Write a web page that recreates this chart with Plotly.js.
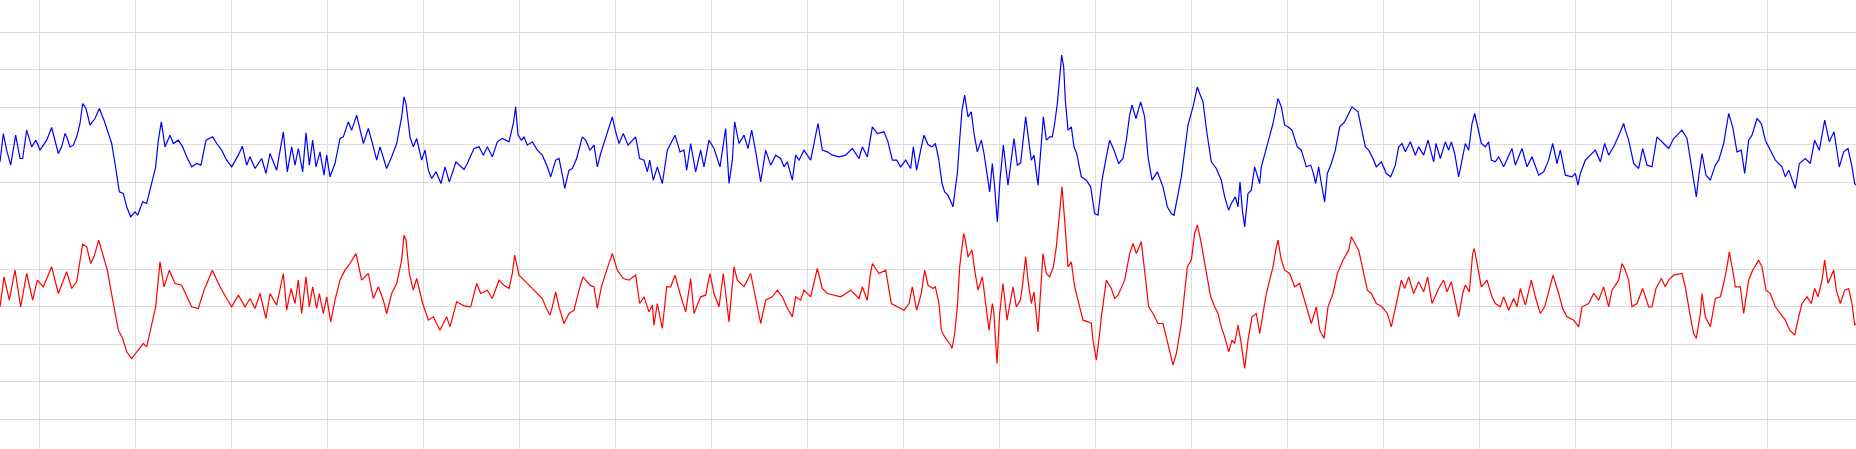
<!DOCTYPE html>
<html>
<head>
<meta charset="utf-8">
<script src="https://cdn.plot.ly/plotly-3.0.1.min.js"></script>
<style>
  html, body { margin: 0; padding: 0; background: #ffffff; overflow: hidden; }
  #chart { width: 1856px; height: 449px; }
</style>
</head>
<body>
<div id="chart"></div>
<script>
// Sample index (time axis) and amplitude (raw units) of the upper, blue channel
const blueT = [0,10,20,32,47,60,68,80,95,108,120,140,155,165,175,185,195,200,210,220,230,240,248,258,270,285,298,312,322,335,345,358,370,380,392,405,413,428,440,455,467,475,484,495,510,520,535,548,560,575,590,603,618,638,650,665,680,695,715,727,740,750,765,785,798,810,830,850,862,875,885,895,908,918,928,938,948,960,972,980,990,1005,1020,1030,1045,1055,1070,1090,1105,1120,1130,1140,1160,1175,1190,1205,1212,1218,1230,1240,1250,1265,1275,1285,1295,1308,1323,1335,1348,1368,
1392,1402,1422,1437,1450,1462,1477,1492,1507,1527,1540,1547,1554,1564,1572,1582,1597,1612,1627,1642,1652,1667,1677,1690,1694,1707,1717,1730,1747,1757,1770,1782,1792,1802,1817,1837,1847,1857,1870,1884,1907,1919,1932,1942,1949,1960,1972,1987,2002,2017,2025,2040,2052,2060,2072,2087,2102,2112,2127,2142,2160,2177,2187,2197,2204,2217,2232,2244,2255,2269,2282,2297,2312,2327,2342,2352,2362,2377,2387,2397,2412,2432,2444,2454,2467,2482,2497,2517,2537,2557,2577,2587,2602,2610,2617,2632,2652,2664,2677,2690,2702,2717,2732,2740,2750,2762,2772,
2784,2796,2806,2816,2826,2834,2844,2854,2859,2864,2872,2879,2886,2894,2904,2914,2922,2932,2944,2952,2961,2969,2977,2984,2992,3000,3010,3024,3042,3052,3062,3077,3086,3094,3102,3114,3124,3130,3139,3149,3157,3164,3172,3178,3185,3191,3196,3204,3214,3222,3230,3244,3259,3272,3284,3294,3306,3319,3329,3342,3356,3369,3379,3389,3396,3408,3422,3434,3444,3456,3472,3489,3502,3514,3522,3544,3554,3564,3579,3592,3599,3609,3621,3634,3649,3664,3674,3686,3694,3706,3714,3720,3727,3734,3744,3754,3764,3779,3784,3792,3802,3819,3834,3844,3854,3864,3876,3892,3904,3919,3932,3939,3947,3956,3964,3974,3982,3994,4006,4019,4034,4046,4056,4074,4084,4096,4106,4119,4129,4144,4159,4172,
4176,4186,4196,4206,4216,4231,4246,4256,4271,4284,4301,4308,4321,4336,4346,4354,4364,4376,4386,4396,4406,4416,4424,4434,4444,4456,4466,4474,4486,4496,4511,4536,4546,4566,4581,4596,4616,4631,4646,4658,4671,4681,4696,4716,4726,4734,4741,4756,4771,4786,4801,4814,4826,4841,4859,4871,4876,4886,4901,4916,4928,4941,4956,4971,4991,5006,5021,5046,5061,5071,5081,5089,5096,5106,5118,5131,5146,5156,5171,5186,5198,5211,5224,5234,5246,5256,5271,5284,5296,5306,5326,5346,5356,5366,5386,5398,5416,5431,5444,5458,5474,5488,5502,5512,5518,5531,5544,5556,5564,5568];
const blueV = [-52,33,-17,-62,28,-42,-42,43,-7,13,-17,13,51,13,-27,-7,33,23,-7,-2,23,63,123,108,58,78,108,73,43,3,-57,-142,-147,-187,-217,-202,-212,-172,-177,-112,-67,13,68,-7,28,3,13,-7,-37,-67,-57,-62,13,23,3,-17,-47,-67,-32,-5,-62,-37,-72,-42,-87,-27,-77,38,-82,-7,-62,-12,-82,35,-62,13,-67,-22,-92,-32,-97,-57,18,23,68,43,88,3,48,-7,-47,-7,-72,-37,3,83,143,123,23,-7,18,-47,-17,-77,-102,-82,-117,-67,-112,-52,
-75,-57,-12,-7,-32,-7,-37,8,18,8,63,113,28,13,23,-2,8,-17,-32,-67,-97,-47,-42,-107,-132,-77,-72,-42,23,13,-17,-2,-67,-27,18,83,38,3,33,-2,23,-42,-47,-82,-47,-107,-67,-117,-17,13,28,-22,-17,-77,3,-82,-17,-67,13,-12,-67,48,-117,-47,68,3,28,-12,43,-32,-112,-17,-62,-32,-42,-67,-52,-107,-32,-47,-17,-47,13,63,-17,-22,-32,-37,-32,-12,-42,-7,-37,13,53,33,38,8,-47,-47,-67,-47,-72,-7,-77,-17,28,
0,-7,3,-42,-117,-142,-152,-177,-187,-147,-87,13,103,148,83,98,33,-22,13,-27,-87,-142,-57,-127,-232,-107,-2,-122,18,-62,-55,83,13,-47,-32,-122,3,83,13,23,23,63,123,183,268,233,133,43,53,-7,-27,-97,-107,-127,-207,-212,-107,-37,13,-17,-57,-42,13,88,118,78,128,83,-37,-107,-82,-127,-187,-207,-212,-97,-17,58,113,173,153,128,33,-52,-72,-107,-157,-197,-177,-157,-187,-112,-197,-247,-147,-137,-67,-117,-67,-37,3,63,138,113,58,53,43,-7,-17,-67,-62,-82,-117,-67,-117,-172,-87,-57,-17,53,68,93,113,98,53,-7,-17,-42,-67,-52,-87,-97,
-87,-62,-7,3,-22,8,-32,-7,-32,13,-52,3,-42,8,-17,8,-27,-97,-47,3,-17,63,93,43,3,-7,8,-47,-52,-37,-67,-12,-62,-12,-67,-37,-92,-82,-47,3,-57,-17,-92,-97,-87,-122,-87,-47,-32,-17,-52,3,-32,-7,33,63,43,13,-57,-72,-12,-62,-67,23,3,-12,18,43,18,-42,-112,-157,-97,-27,-92,-107,-62,-47,3,93,53,-22,-17,-87,13,28,78,63,13,-7,-47,-67,-97,-77,-132,-57,-42,-57,13,-17,73,8,38,-27,-67,-22,-12,-67,-117,-122];

// Sample index and amplitude (raw units) of the lower, red channel
const redT = [0,12,28,45,62,80,98,112,130,155,175,190,200,215,230,248,260,272,282,296,308,322,340,355,368,380,395,410,430,440,455,467,480,492,508,525,545,560,575,595,612,637,660,680,695,715,735,750,765,780,798,810,830,850,860,873,885,895,905,918,928,938,950,958,970,980,992,1005,1020,1035,1050,1068,1085,1105,1120,1135,1150,1160,1175,1190,1205,1212,1218,1228,1240,1250,1268,1285,1300,1320,1340,1350,1370,
1392,1412,1430,1442,1462,1477,1497,1512,1527,1537,1544,1557,1572,1592,1612,1627,1637,1650,1657,1667,1677,1692,1707,1722,1737,1749,1770,1782,1792,1804,1820,1837,1852,1870,1887,1907,1919,1932,1947,1957,1962,1972,1987,2000,2012,2025,2040,2057,2072,2082,2102,2117,2130,2142,2157,2170,2187,2202,2212,2232,2252,2264,2282,2297,2317,2332,2347,2360,2377,2387,2402,2412,2432,2452,2467,2482,2502,2522,2552,2577,2587,2602,2610,2617,2637,2657,2674,2692,2712,2727,2737,2750,2764,2774,
2784,2799,2806,2817,2824,2834,2842,2852,2856,2864,2872,2879,2891,2896,2904,2916,2924,2934,2947,2954,2962,2967,2977,2981,2991,2999,3009,3021,3039,3049,3061,3067,3077,3084,3094,3102,3114,3129,3139,3149,3160,3169,3179,3186,3194,3204,3214,3224,3239,3249,3264,3274,3279,3289,3299,3304,3319,3334,3344,3354,3374,3389,3399,3409,3424,3434,3446,3459,3474,3489,3502,3512,3519,3529,3544,3554,3562,3574,3584,3592,3602,3616,3632,3644,3654,3664,3674,3686,3696,3704,3714,3722,3729,3734,3744,3756,3769,3779,3789,3799,3809,3819,3829,3834,3844,3854,3869,3884,3899,3919,3934,3949,3959,3972,3984,3999,4012,4029,4046,4054,4069,4076,4089,4102,4114,4129,4146,4162,4174,
4176,4186,4194,4204,4214,4226,4241,4256,4271,4283,4296,4316,4331,4341,4354,4364,4376,4388,4396,4408,4418,4423,4434,4444,4461,4476,4486,4501,4511,4526,4541,4551,4561,4576,4594,4606,4621,4634,4646,4659,4676,4688,4701,4721,4736,4746,4766,4781,4796,4811,4826,4836,4856,4866,4874,4886,4896,4911,4928,4946,4956,4968,4984,4996,5006,5021,5046,5056,5071,5081,5089,5101,5106,5116,5131,5146,5161,5171,5181,5188,5198,5206,5221,5231,5246,5258,5276,5286,5298,5311,5326,5341,5356,5369,5384,5396,5406,5421,5434,5444,5454,5466,5474,5484,5501,5509,5521,5534,5546,5556,5564,5568];
const redV = [-1,89,19,109,-1,99,19,79,59,119,39,79,104,54,74,187,179,129,149,199,159,109,9,-71,-96,-136,-156,-136,-111,-121,-51,-1,134,59,109,69,64,29,-1,-6,49,109,59,24,-1,34,-1,24,-6,39,-36,39,4,99,-11,54,9,79,-21,89,-1,59,-6,39,-21,29,-46,19,79,109,129,159,79,99,24,59,19,-21,39,69,139,214,199,99,49,84,9,-41,-31,-71,-31,-61,14,
2,-1,69,39,49,24,79,64,54,99,154,94,79,59,39,24,-1,-26,-1,44,-1,-51,-21,-11,49,89,64,59,-6,59,109,159,109,84,79,94,9,29,-16,4,-56,9,-66,59,59,94,39,-16,84,-21,29,34,99,39,-1,99,-46,119,79,59,99,39,-51,19,29,49,29,-1,-31,29,19,49,29,114,54,39,34,29,49,24,59,19,89,129,99,109,9,-1,-11,9,59,-11,39,109,
64,54,59,9,-71,-91,-101,-116,-126,-81,-1,119,219,199,149,169,109,49,89,39,-31,-71,9,-11,-171,-21,69,-41,59,-1,19,59,149,79,9,44,-76,159,99,89,119,179,279,359,259,119,134,59,-1,-41,-46,-51,-101,-161,-81,-31,79,54,24,34,79,159,189,159,194,109,-1,-21,-51,-51,-101,-146,-176,-141,-51,39,119,139,219,244,199,119,29,-1,-21,-61,-91,-136,-101,-111,-56,-101,-151,-186,-101,-31,-21,-81,-21,39,79,119,179,199,139,109,99,59,69,-1,-51,-1,-71,-96,-1,39,99,139,169,209,179,169,109,49,39,9,-1,-21,-61,
-51,-1,39,79,54,89,39,74,44,89,9,54,79,44,74,29,-31,39,64,44,159,174,119,59,79,29,9,-1,29,-11,24,-1,54,4,79,29,-21,-1,44,94,39,-6,-31,-41,-61,-1,9,39,19,59,-1,49,79,129,114,79,-1,9,54,-1,-1,54,84,59,79,94,99,59,-31,-81,-96,-21,39,-31,-61,24,29,69,119,164,109,59,59,-21,79,109,139,119,49,39,-1,-21,-41,-71,-86,-31,9,29,9,54,29,79,139,69,109,49,9,49,54,9,-56,-51];

// Grid / tick positions (axis values) for each channel
const blueTicks = [-112.5, 0, 112.5, 225, 337.5];
const redTicks = [-337.5, -225, -112.5, 0, 112.5];
const timeTick0 = 118;
const timeTickStep = 288;

function pair(t, v) {
  const n = Math.min(t.length, v.length);
  if (t.length !== v.length) console.warn('length mismatch', t.length, v.length);
  return { x: t.slice(0, n), y: v.slice(0, n) };
}
const b = pair(blueT, blueV);
const r = pair(redT, redV);

const gridColor = '#dddddd';

const traces = [
  { x: b.x, y: b.y, type: 'scatter', mode: 'lines', name: 'Channel 1',
    line: { color: '#0000ff', width: 1.2 }, yaxis: 'y', hoverinfo: 'skip' },
  { x: r.x, y: r.y, type: 'scatter', mode: 'lines', name: 'Channel 2',
    line: { color: '#ff0000', width: 1.2 }, yaxis: 'y2', hoverinfo: 'skip' }
];

const layout = {
  width: 1856, height: 449,
  margin: { l: 0, r: 0, t: 0, b: 0, pad: 0 },
  paper_bgcolor: '#ffffff', plot_bgcolor: '#ffffff',
  showlegend: false,
  xaxis: {
    range: [0, 5568], tickmode: 'linear', tick0: timeTick0, dtick: timeTickStep,
    showgrid: true, gridcolor: gridColor, gridwidth: 1,
    zeroline: false, showline: false, showticklabels: false, ticks: ''
  },
  yaxis: {
    range: [-913.5, 433.5], tickmode: 'array', tickvals: blueTicks,
    showgrid: true, gridcolor: gridColor, gridwidth: 1,
    zeroline: false, showline: false, showticklabels: false, ticks: ''
  },
  yaxis2: {
    range: [-427.5, 919.5], overlaying: 'y', side: 'left', tickmode: 'array', tickvals: redTicks,
    showgrid: true, gridcolor: gridColor, gridwidth: 1,
    zeroline: false, showline: false, showticklabels: false, ticks: ''
  }
};

Plotly.newPlot('chart', traces, layout, { staticPlot: true, displayModeBar: false });
</script>
</body>
</html>
